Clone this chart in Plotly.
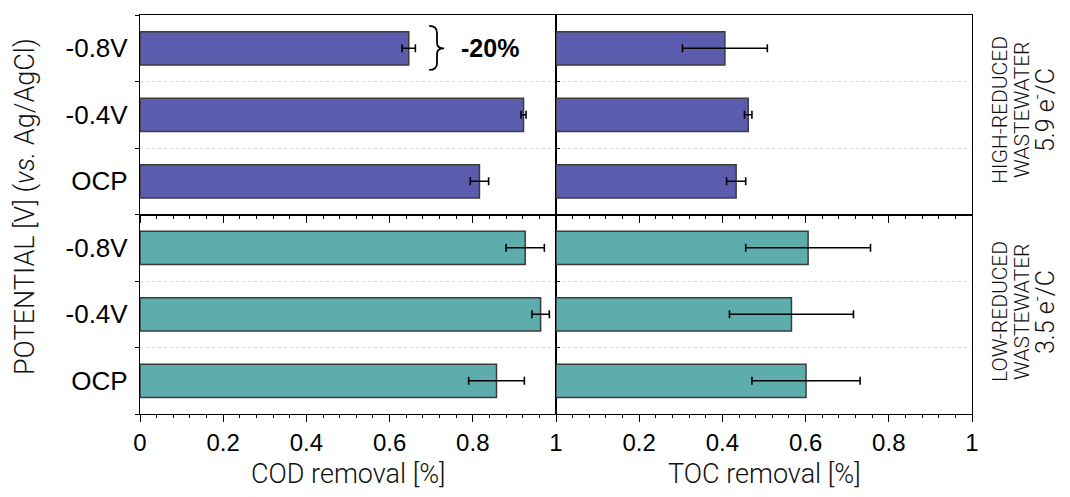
import plotly.graph_objects as go

# ---------------- data ----------------
potentials = ["-0.8V", "-0.4V", "OCP"]          # top-to-bottom order
cod_high = [0.646, 0.922, 0.816]
cod_high_err = [0.016, 0.006, 0.022]
cod_low = [0.926, 0.963, 0.857]
cod_low_err = [0.046, 0.021, 0.067]
toc_high = [0.406, 0.462, 0.433]
toc_high_err = [0.102, 0.009, 0.023]
toc_low = [0.606, 0.566, 0.601]
toc_low_err = [0.150, 0.149, 0.130]

x_tickvals = [0, 0.2, 0.4, 0.6, 0.8, 1]
x_ticktext_left = ["0", "0.2", "0.4", "0.6", "0.8", "1"]
x_ticktext_right = ["", "0.2", "0.4", "0.6", "0.8", "1"]
x_titles = ["COD removal [%]", "TOC removal [%]"]

HIGH_COLOR = "#5b5cad"
LOW_COLOR = "#5eadad"
EDGE = "#3c3c3c"

# the page body adds an 8px margin on every side; size the figure so that
# no scrollbar appears and the plot lands where the reference has it
OFF = 8
W, H = 1070 - 2 * OFF, 497 - 2 * OFF
L, T = 140 - OFF, 15 - OFF
R = W - L - 832
B = H - T - 399

TICK_FONT = dict(family="Liberation Sans, Arial, sans-serif", size=24, color="black")
YTICK_FONT = dict(family="Liberation Sans, Arial, sans-serif", size=26, color="black")
LIGHT = dict(family="Roboto, Liberation Sans, sans-serif", size=27, color="#111111", weight=300)

fig = go.Figure()


def add_bars(vals, errs, color, xa, ya):
    fig.add_trace(go.Bar(
        x=vals, y=potentials, orientation="h", width=0.5,
        marker=dict(color=color, line=dict(color=EDGE, width=1.5)),
        error_x=dict(type="data", array=errs, visible=True, color="black",
                     thickness=1.6, width=4),
        xaxis=xa, yaxis=ya, showlegend=False,
    ))


add_bars(cod_high, cod_high_err, HIGH_COLOR, "x", "y")
add_bars(toc_high, toc_high_err, HIGH_COLOR, "x2", "y2")
add_bars(cod_low, cod_low_err, LOW_COLOR, "x3", "y3")
add_bars(toc_low, toc_low_err, LOW_COLOR, "x4", "y4")


def xax(domain, anchor, labels, text=None):
    d = dict(
        domain=domain, anchor=anchor, range=[0, 1], showgrid=False, zeroline=False,
        showline=True, mirror=True, linecolor="black", linewidth=1.2,
        ticks="outside", ticklen=7, tickwidth=1.3, tickcolor="black",
        tickmode="array", tickvals=x_tickvals,
        minor=dict(dtick=0.04, ticks="outside", ticklen=3, tickwidth=1, tickcolor="black"),
        showticklabels=labels, tickfont=TICK_FONT, fixedrange=True, automargin=False,
    )
    if text is not None:
        d["ticktext"] = text
    return d


def yax(domain, anchor, labels, ticks):
    return dict(
        domain=domain, anchor=anchor, type="category",
        categoryorder="array", categoryarray=potentials[::-1],
        tickson="boundaries", ticks=ticks, ticklen=4, tickwidth=1.3, tickcolor="black",
        showgrid=True, gridcolor="#dadada", griddash="dot", gridwidth=1,
        showline=True, mirror=True, linecolor="black", linewidth=1.2,
        showticklabels=labels, tickfont=YTICK_FONT, ticklabelstandoff=6,
        zeroline=False, fixedrange=True, automargin=False,
        range=[-0.5, 2.5],
    )


fig.update_layout(
    width=W, height=H, margin=dict(l=L, r=R, t=T, b=B),
    paper_bgcolor="white", plot_bgcolor="white",
    xaxis=xax([0, 0.5], "y", False),
    xaxis2=xax([0.5, 1], "y2", False),
    xaxis3=xax([0, 0.5], "y3", True, x_ticktext_left),
    xaxis4=xax([0.5, 1], "y4", True, x_ticktext_right),
    yaxis=yax([0.5, 1], "x", True, "outside"),
    yaxis2=yax([0.5, 1], "x2", False, "inside"),
    yaxis3=yax([0, 0.5], "x3", True, "outside"),
    yaxis4=yax([0, 0.5], "x4", False, "inside"),
    bargap=0.5,
)

pw, ph = W - L - R, H - T - B


def px2paper(sx, sy):
    # screen px -> paper coords
    fx, fy = sx - OFF, sy - OFF
    return (fx - L) / pw, (H - B - fy) / ph


annotations = []
# x-axis titles, centred under each column
for i, t in enumerate(x_titles):
    _, ty = px2paper(0, 474)
    annotations.append(dict(text=t, x=0.5, y=ty, xref=f"x{3 + i} domain", yref="paper",
                            showarrow=False, font=dict(LIGHT, size=27),
                            xanchor="center", yanchor="middle"))
# y-axis title
ax_, ay_ = px2paper(25, 207)
annotations.append(dict(text="POTENTIAL [V] (<i>vs.</i> Ag/AgCl)", x=ax_, y=ay_,
                        xref="paper", yref="paper", textangle=-90, showarrow=False,
                        font=LIGHT, xanchor="center", yanchor="middle"))
# right side group labels
groups = [("HIGH-REDUCED", "WASTEWATER", "5.9 e<sup>-</sup>/C", 110),
          ("LOW-REDUCED", "WASTEWATER", "3.5 e<sup>-</sup>/C", 312)]
for line1, line2, sub, py in groups:
    for txt, sx_ in [(line1, 1000), (line2, 1022)]:
        gx, gy = px2paper(sx_, py)
        annotations.append(dict(text=txt, x=gx, y=gy, xref="paper", yref="paper",
                                textangle=-90, showarrow=False,
                                font=dict(LIGHT, size=21), xanchor="center", yanchor="middle"))
    sx, sy = px2paper(1043, py)
    annotations.append(dict(text=sub, x=sx, y=sy, xref="paper", yref="paper",
                            textangle=-90, showarrow=False,
                            font=dict(LIGHT, size=25), xanchor="center", yanchor="middle"))
# -20% label
annotations.append(dict(text="<b>-20%</b>", x=0.842, y="-0.8V", xref="x", yref="y",
                        showarrow=False, xanchor="center", yanchor="middle",
                        font=dict(family="Liberation Sans, Arial, sans-serif", size=25, color="black")))
fig.update_layout(annotations=annotations)

# curly bracket next to the -0.8V COD bar
brace = ("M 0.695,0.945 Q 0.714,0.945 0.714,0.91 L 0.714,0.86 "
         "Q 0.714,0.833 0.731,0.833 Q 0.714,0.833 0.714,0.806 L 0.714,0.76 "
         "Q 0.714,0.725 0.695,0.725")
fig.add_shape(type="path", path=brace, xref="x", yref="y domain",
              line=dict(color="black", width=1.8))

fig.write_html("out.html")
